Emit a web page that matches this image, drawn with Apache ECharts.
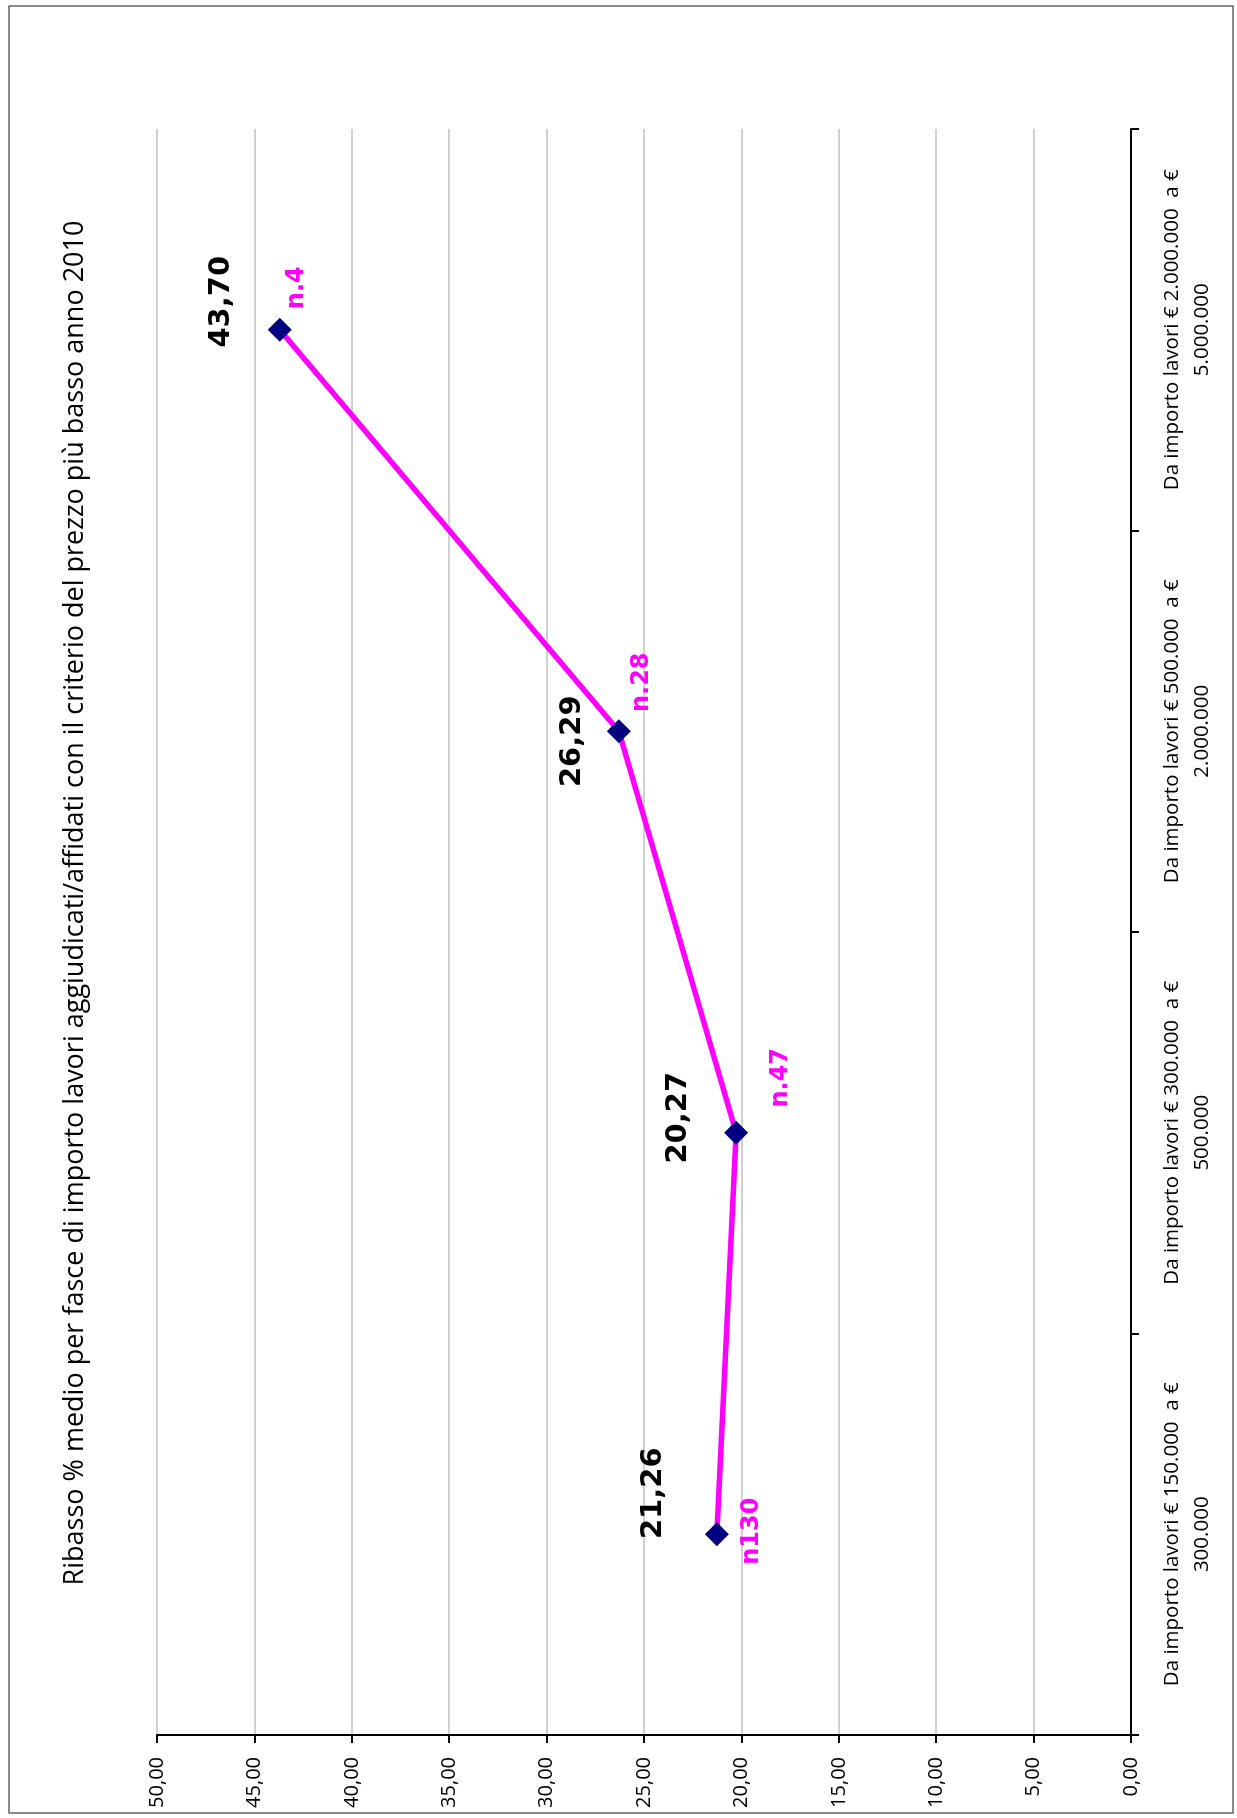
<!DOCTYPE html>
<html><head><meta charset="utf-8">
<script src="https://cdn.jsdelivr.net/npm/echarts@6/dist/echarts.min.js"></script>
<style>html,body{margin:0;padding:0;background:#fff}#chart{width:1237px;height:1818px}</style>
</head><body><div id="chart"></div>
<script>
const titleText = 'Ribasso % medio per fasce di importo lavori aggiudicati/affidati con il criterio del prezzo più basso anno 2010';
const categories = [
  'Da importo lavori € 150.000  a €\n300.000',
  'Da importo lavori € 300.000  a €\n500.000',
  'Da importo lavori € 500.000  a €\n2.000.000',
  'Da importo lavori € 2.000.000  a €\n5.000.000'
];
const ribasso = [21.26, 20.27, 26.29, 43.70];
const counts = ['n130', 'n.47', 'n.28', 'n.4'];
const axisMin = 0, axisMax = 50, axisStep = 5;

// label placement (style only; offsets are in the rotated label frame)
const valueLabelOffsets = [[41, -63], [15, -58], [-10, -46], [28, -58]];
const countLabelOffsets = [[3, 35], [55, 45], [49, 23], [42, 17]];

const fmt = v => Number(v).toFixed(2).replace('.', ',');
const chart = echarts.init(document.getElementById('chart'), null, {renderer: 'canvas'});
chart.setOption({
  backgroundColor: '#ffffff',
  animation: false,
  grid: {left: 157, right: 106, top: 129, bottom: 83},
  xAxis: {
    type: 'value', inverse: true, position: 'bottom',
    min: axisMin, max: axisMax, interval: axisStep,
    axisLine: {show: true, lineStyle: {color: '#000', width: 2}},
    axisTick: {show: true, length: 8, lineStyle: {color: '#000', width: 2}},
    axisLabel: {rotate: 90, margin: 22, formatter: fmt, fontFamily: 'Open Sans', fontSize: 20, color: '#000'},
    splitLine: {show: true, lineStyle: {color: '#c0c0c0', width: 1.5}}
  },
  yAxis: {
    type: 'category', position: 'right', data: categories, boundaryGap: true,
    axisLine: {show: true, lineStyle: {color: '#000', width: 2}},
    axisTick: {show: true, length: 8, interval: 0, lineStyle: {color: '#000', width: 2}},
    axisLabel: {rotate: 90, margin: 26, interval: 0, fontFamily: 'Open Sans', fontSize: 20.5, lineHeight: 30, color: '#000', align: 'center'},
    splitLine: {show: false}
  },
  series: [
    {
      type: 'line',
      data: ribasso.map((v, i) => ({value: v, label: {offset: valueLabelOffsets[i]}})),
      symbol: 'diamond', symbolSize: 24,
      itemStyle: {color: '#000080'},
      lineStyle: {color: '#FF00FF', width: 5.5},
      label: {show: true, position: 'inside', rotate: 90, formatter: p => fmt(p.value),
        fontFamily: 'DejaVu Sans', fontWeight: 'bold', fontSize: 29, color: '#000'},
      emphasis: {disabled: true}, z: 3
    },
    {
      type: 'line',
      data: ribasso.map((v, i) => ({value: v, label: {offset: countLabelOffsets[i]}})),
      symbol: 'circle', symbolSize: 1,
      itemStyle: {color: 'rgba(0,0,0,0)'},
      lineStyle: {width: 0, opacity: 0},
      label: {show: true, position: 'inside', rotate: 90, formatter: p => counts[p.dataIndex],
        fontFamily: 'DejaVu Sans', fontWeight: 'bold', fontSize: 24, color: '#FF00FF'},
      emphasis: {disabled: true}, silent: true, z: 4
    }
  ],
  graphic: [
    {type: 'rect', shape: {x: 9, y: 6, width: 1224, height: 1807}, style: {fill: 'none', stroke: '#666', lineWidth: 1.5}, silent: true, z: -1},
    {type: 'text', x: 75, y: 903, rotation: Math.PI / 2,
     style: {text: titleText, font: '27px "Open Sans"', fill: '#000', textAlign: 'center', textVerticalAlign: 'middle'}}
  ]
});
</script></body></html>
